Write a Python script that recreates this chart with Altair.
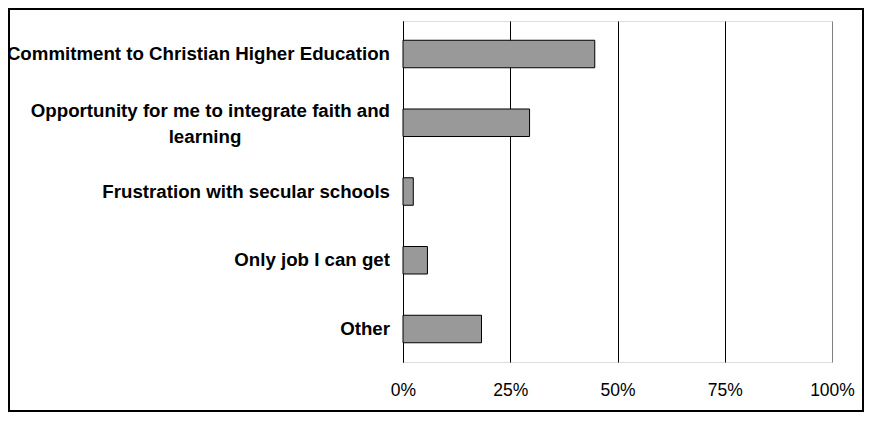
import altair as alt
import pandas as pd

categories = [
    "Commitment to Christian Higher Education",
    "Opportunity for me to integrate faith and learning",
    "Frustration with secular schools",
    "Only job I can get",
    "Other",
]
line1 = [
    "Commitment to Christian Higher Education",
    "Opportunity for me to integrate faith and",
    "Frustration with secular schools",
    "Only job I can get",
    "Other",
]
line2 = ["", "learning", "", "", ""]
values = [0.447, 0.295, 0.024, 0.057, 0.183]
tick_values = [0, 0.25, 0.5, 0.75, 1.0]

df = pd.DataFrame({"category": categories, "value": values, "line1": line1, "line2": line2})

W, H = 429, 341
FONT = "Liberation Sans"
LFS = 18.7

y_enc = alt.Y(
    "category:N",
    sort=categories,
    scale=alt.Scale(paddingInner=0.6, paddingOuter=0.28),
    axis=alt.Axis(labels=False, ticks=False, title=None, grid=False,
                  domainColor="black", domainWidth=1),
)

base = alt.Chart(df)

bars = base.mark_bar(color="#999999", stroke="black", strokeWidth=1).encode(
    x=alt.X(
        "value:Q",
        scale=alt.Scale(domain=[0, 1]),
        axis=alt.Axis(
            values=tick_values, format="%", grid=True,
            gridColor={"condition": {"test": "datum.value >= 1", "value": "#808080"}, "value": "black"},
            gridWidth=1, domain=False, ticks=False, labelPadding=19, labelFlush=False,
            labelFontSize=17.5, labelFont=FONT, labelColor="black", title=None,
        ),
    ),
    y=y_enc,
)

text_style = dict(baseline="middle", fontWeight="bold", fontSize=LFS, font=FONT, color="black")

single = base.transform_filter("datum.line2 == ''").mark_text(
    align="right", **text_style
).encode(y=y_enc, text="line1:N", x=alt.value(-13))

multi1 = base.transform_filter("datum.line2 != ''").mark_text(
    align="right", dy=-12, **text_style
).encode(y=y_enc, text="line1:N", x=alt.value(-13))

multi2 = base.transform_filter("datum.line2 != ''").mark_text(
    align="center", dy=14, **text_style
).encode(y=y_enc, text="line2:N", x=alt.value(-198))

border = alt.Chart(pd.DataFrame({"a": [0]})).mark_rect(
    fillOpacity=0, stroke="black", strokeWidth=2, clip=False
).encode(
    x=alt.value(-394), x2=alt.value(W + 31), y=alt.value(-12), y2=alt.value(H + 49)
)

chart = alt.layer(border, bars, single, multi1, multi2).properties(
    width=W, height=H,
    autosize=alt.AutoSizeParams(type="none"),
    padding={"left": 395, "top": 13, "right": 32, "bottom": 51},
).configure_view(stroke="#808080", strokeWidth=1).configure(background="white")

chart.save("out.html", embed_options={"renderer": "svg", "actions": False})
